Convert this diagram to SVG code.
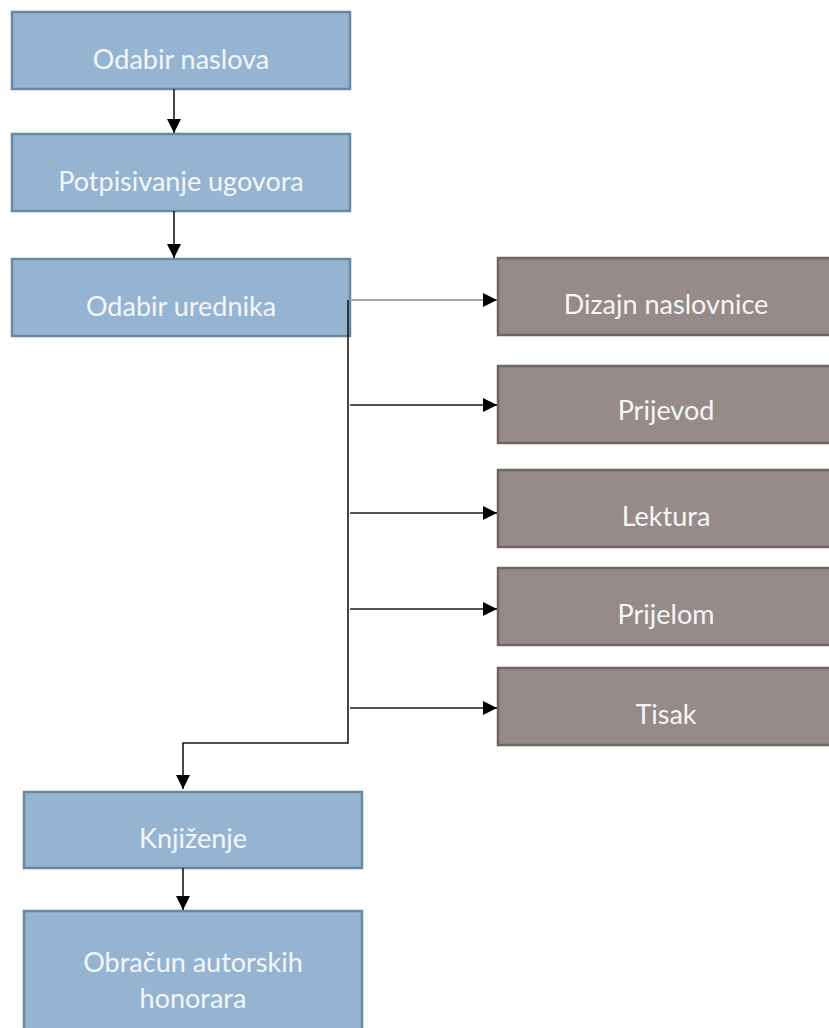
<svg xmlns="http://www.w3.org/2000/svg" width="829" height="1028" viewBox="0 0 829 1028">
<style>
.b{fill:#95B4D2;stroke:#6B88A3;stroke-width:2.5}
.g{fill:#968B89;stroke:#6F6563;stroke-width:2.5}
.t{font-family:Lato,"Liberation Sans",sans-serif;font-size:27px;fill:#F4F6F8;text-anchor:middle}
.c{fill:none;stroke:#1a1a1a;stroke-width:1.6}
</style>
<defs>
<marker id="ah" viewBox="0 0 14 14" refX="14" refY="7" markerWidth="14" markerHeight="14" markerUnits="userSpaceOnUse" orient="auto">
<path d="M0,0 L14,7 L0,14 Z" fill="#000"/>
</marker>
</defs>
<rect width="829" height="1028" fill="#fff"/>
<g id="n1"><rect class="b" x="12" y="12" width="338" height="77"/><text class="t" x="181" y="69">Odabir naslova</text></g>
<g id="n2"><rect class="b" x="12" y="134" width="338" height="77"/><text class="t" x="181" y="191">Potpisivanje ugovora</text></g>
<g id="n3"><rect class="b" x="12" y="259" width="338" height="77"/><text class="t" x="181" y="316">Odabir urednika</text></g>
<g id="n4"><rect class="g" x="498" y="258" width="340" height="77"/><text class="t" x="666" y="314">Dizajn naslovnice</text></g>
<g id="n5"><rect class="g" x="498" y="366" width="340" height="77"/><text class="t" x="666" y="420">Prijevod</text></g>
<g id="n6"><rect class="g" x="498" y="470" width="340" height="77"/><text class="t" x="666" y="526">Lektura</text></g>
<g id="n7"><rect class="g" x="498" y="568" width="340" height="77"/><text class="t" x="666" y="624">Prijelom</text></g>
<g id="n8"><rect class="g" x="498" y="668" width="340" height="77"/><text class="t" x="666" y="724">Tisak</text></g>
<g id="n9"><rect class="b" x="24" y="792" width="338" height="76"/><text class="t" x="193" y="848">Knjiženje</text></g>
<g id="n10"><rect class="b" x="24" y="911" width="338" height="120"/><text class="t" x="193" y="972">Obračun autorskih</text><text class="t" x="193" y="1008">honorara</text></g>
<g id="connectors">
<path class="c" stroke="#444" d="M174,89 V133" marker-end="url(#ah)"/>
<path class="c" d="M174,211 V258" marker-end="url(#ah)"/>
<path class="c" style="stroke:#a6a6a6;stroke-width:2" d="M350,300 H497" marker-end="url(#ah)"/>
<path class="c" d="M348,300 V743 H183 V789" marker-end="url(#ah)"/>
<path class="c" d="M350,405 H497" marker-end="url(#ah)"/>
<path class="c" d="M350,513 H497" marker-end="url(#ah)"/>
<path class="c" d="M350,609 H497" marker-end="url(#ah)"/>
<path class="c" d="M350,708 H497" marker-end="url(#ah)"/>
<path class="c" stroke="#444" d="M183,868 V910" marker-end="url(#ah)"/>
</g>
</svg>
